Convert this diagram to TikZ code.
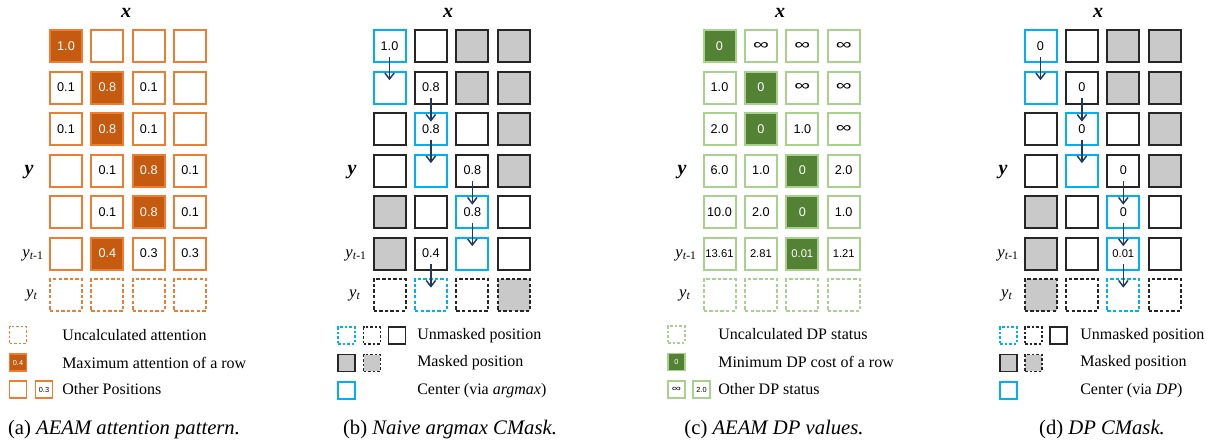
\documentclass[tikz,border=0pt]{standalone}
\usepackage{fontspec}
\usepackage{graphicx}
\setmainfont{Liberation Serif}
\newfontfamily\cellfont{Liberation Sans}
\usetikzlibrary{arrows.meta}
\definecolor{orL}{HTML}{ED7D31}
\definecolor{orD}{HTML}{C55A11}
\definecolor{grL}{HTML}{A9D18E}
\definecolor{grD}{HTML}{548235}
\definecolor{blC}{HTML}{00B0F0}
\definecolor{grayF}{HTML}{C9C9C9}
\definecolor{blk}{HTML}{262626}
\definecolor{navy}{HTML}{1F3864}
\newcommand{\infsym}{\scalebox{1.75}[1.15]{∞}}
\newcommand{\infsmall}{\scalebox{1.6}[1.1]{\fontsize{6}{6}\selectfont ∞}}
\begin{document}
\begin{tikzpicture}[x=0.75pt,y=-0.75pt,
 cell/.style={draw, minimum size=24pt, inner sep=0pt, line width=1.5pt, font=\cellfont\fontsize{9.5}{10}\selectfont},
 dsh/.style={dash pattern=on 2.6pt off 1.6pt},
 aN/.style={cell, draw=orL},
 aF/.style={cell, draw=orL, fill=orD, text=white},
 aD/.style={cell, draw=orL, dsh},
 cN/.style={cell, draw=grL},
 cF/.style={cell, draw=grL, fill=grD, text=white},
 cD/.style={cell, draw=grL, dsh},
 kN/.style={cell, draw=blk},
 kG/.style={cell, draw=blk, fill=grayF},
 kB/.style={cell, draw=blC},
 kND/.style={kN, dsh}, kGD/.style={kG, dsh}, kBD/.style={kB, dsh},
 lgs/.style={minimum size=12.5pt, line width=1.2pt, font=\cellfont\fontsize{5.5}{6}\selectfont, dash pattern=on 2pt off 1.4pt},
 lgsolid/.style={solid},
 arr/.style={draw=navy, line width=1.1pt, -{Straight Barb[length=4.5pt,width=7pt]}},
 lgt/.style={anchor=west, inner sep=0pt, font=\fontsize{12}{14}\selectfont},
 capt/.style={inner sep=0pt, font=\fontsize{15.5}{17}\selectfont},
 axl/.style={inner sep=0pt, font=\fontsize{15}{16}\selectfont\bfseries\itshape},
 rowl/.style={inner sep=0pt, font=\fontsize{12.5}{14}\selectfont}
]
\useasboundingbox (0,0) rectangle (1209,439);

% ---------------- panel (a)
\foreach \r/\c/\s/\t in {
 1/1/aF/1.0, 1/2/aN/{}, 1/3/aN/{}, 1/4/aN/{},
 2/1/aN/0.1, 2/2/aF/0.8, 2/3/aN/0.1, 2/4/aN/{},
 3/1/aN/0.1, 3/2/aF/0.8, 3/3/aN/0.1, 3/4/aN/{},
 4/1/aN/{}, 4/2/aN/0.1, 4/3/aF/0.8, 4/4/aN/0.1,
 5/1/aN/{}, 5/2/aN/0.1, 5/3/aF/0.8, 5/4/aN/0.1,
 6/1/aN/{}, 6/2/aF/0.4, 6/3/aN/0.3, 6/4/aN/0.3,
 7/1/aD/{}, 7/2/aD/{}, 7/3/aD/{}, 7/4/aD/{}}
 \node[\s] (a-\r-\c) at ({66+41.4*(\c-1)},{46+41.5*(\r-1)}) {\t};
\node[axl] (ax) at (126,13) {x};
\node[axl] (ay) at (29,172) {y};
\node[rowl] (ayt1) at (33,255) {\textit{y}\textsubscript{\textit{t}-1}};
\node[rowl] (ayt) at (32,295) {\textit{y}\textsubscript{\textit{t}}};
\node[aD, lgs] (al1) at (18,335) {};
\node[aF, lgs, lgsolid] (al2) at (18,362.5) {0.4};
\node[aN, lgs, lgsolid] (al3) at (18,389.5) {};
\node[aN, lgs, lgsolid] (al4) at (44,389.5) {0.3};
\node[lgt] (alt1) at (62,335) {Uncalculated attention};
\node[lgt] (alt2) at (62,362.5) {Maximum attention of a row};
\node[lgt] (alt3) at (62,389.5) {Other Positions};
\node[capt] (capa) at (124,430) {(a) \textit{AEAM attention pattern.}};

% ---------------- panel (b)
\foreach \r/\c/\s/\t in {
 1/1/kB/1.0, 1/2/kN/{}, 1/3/kG/{}, 1/4/kG/{},
 2/1/kB/{}, 2/2/kN/0.8, 2/3/kG/{}, 2/4/kG/{},
 3/1/kN/{}, 3/2/kB/0.8, 3/3/kN/{}, 3/4/kG/{},
 4/1/kN/{}, 4/2/kB/{}, 4/3/kN/0.8, 4/4/kG/{},
 5/1/kG/{}, 5/2/kN/{}, 5/3/kB/0.8, 5/4/kN/{},
 6/1/kG/{}, 6/2/kN/0.4, 6/3/kB/{}, 6/4/kN/{},
 7/1/kND/{}, 7/2/kBD/{}, 7/3/kND/{}, 7/4/kGD/{}}
 \node[\s] (b-\r-\c) at ({389.5+41.4*(\c-1)},{46+41.5*(\r-1)}) {\t};
\foreach \ra/\ca/\rb in {1/1/2, 2/2/3, 3/2/4, 4/3/5, 5/3/6, 6/2/7}
 \draw[arr] ([yshift=-8pt]b-\ra-\ca.center) -- ([yshift=5.5pt]b-\rb-\ca.center);
\node[axl] (bx) at (448,13) {x};
\node[axl] (by) at (352,172) {y};
\node[rowl] (byt1) at (356,255) {\textit{y}\textsubscript{\textit{t}-1}};
\node[rowl] (byt) at (355,295) {\textit{y}\textsubscript{\textit{t}}};
\node[kBD, lgs] (bl1) at (346.5,335.5) {};
\node[kND, lgs] (bl2) at (372,335.5) {};
\node[kN, lgs, lgsolid] (bl3) at (397,335.5) {};
\node[kG, lgs, lgsolid] (bl4) at (346.5,363) {};
\node[kGD, lgs] (bl5) at (372,363) {};
\node[kB, lgs, lgsolid] (bl6) at (346.5,390.5) {};
\node[lgt] (blt1) at (417,335.5) {Unmasked position};
\node[lgt] (blt2) at (417,363) {Masked position};
\node[lgt] (blt3) at (417,390.5) {Center (via \textit{argmax})};
\node[capt] (capb) at (450,430) {(b) \textit{Naive argmax CMask.}};

% ---------------- panel (c)
\foreach \r/\c/\s/\t in {
 1/1/cF/0, 1/2/cN/\infsym, 1/3/cN/\infsym, 1/4/cN/\infsym,
 2/1/cN/1.0, 2/2/cF/0, 2/3/cN/\infsym, 2/4/cN/\infsym,
 3/1/cN/2.0, 3/2/cF/0, 3/3/cN/1.0, 3/4/cN/\infsym,
 4/1/cN/6.0, 4/2/cN/1.0, 4/3/cF/0, 4/4/cN/2.0,
 5/1/cN/10.0, 5/2/cN/2.0, 5/3/cF/0, 5/4/cN/1.0,
 6/1/cN/{\fontsize{8.4}{9}\selectfont 13.61}, 6/2/cN/{\fontsize{8.4}{9}\selectfont 2.81}, 6/3/cF/{\fontsize{8.4}{9}\selectfont 0.01}, 6/4/cN/{\fontsize{8.4}{9}\selectfont 1.21},
 7/1/cD/{}, 7/2/cD/{}, 7/3/cD/{}, 7/4/cD/{}}
 \node[\s] (c-\r-\c) at ({719.5+41.4*(\c-1)},{46+41.5*(\r-1)}) {\t};
\node[axl] (cx) at (780,13) {x};
\node[axl] (cy) at (682,172) {y};
\node[rowl] (cyt1) at (686,255) {\textit{y}\textsubscript{\textit{t}-1}};
\node[rowl] (cyt) at (685,295) {\textit{y}\textsubscript{\textit{t}}};
\node[cD, lgs] (cl1) at (676.5,334.5) {};
\node[cF, lgs, lgsolid] (cl2) at (676.5,362) {0};
\node[cN, lgs, lgsolid] (cl3) at (676.5,389.5) {\infsmall};
\node[cN, lgs, lgsolid] (cl4) at (701.5,389.5) {2.0};
\node[lgt] (clt1) at (718,334.5) {Uncalculated DP status};
\node[lgt] (clt2) at (718,362) {Minimum DP cost of a row};
\node[lgt] (clt3) at (718,389.5) {Other DP status};
\node[capt] (capc) at (774,430) {(c) \textit{AEAM DP values.}};

% ---------------- panel (d)
\foreach \r/\c/\s/\t in {
 1/1/kB/0, 1/2/kN/{}, 1/3/kG/{}, 1/4/kG/{},
 2/1/kB/{}, 2/2/kN/0, 2/3/kG/{}, 2/4/kG/{},
 3/1/kN/{}, 3/2/kB/0, 3/3/kN/{}, 3/4/kG/{},
 4/1/kN/{}, 4/2/kB/{}, 4/3/kN/0, 4/4/kG/{},
 5/1/kG/{}, 5/2/kN/{}, 5/3/kB/0, 5/4/kN/{},
 6/1/kG/{}, 6/2/kN/{}, 6/3/kB/{\fontsize{8.4}{9}\selectfont 0.01}, 6/4/kN/{},
 7/1/kGD/{}, 7/2/kND/{}, 7/3/kBD/{}, 7/4/kND/{}}
 \node[\s] (d-\r-\c) at ({1040.5+41.4*(\c-1)},{46+41.5*(\r-1)}) {\t};
\foreach \ra/\ca/\rb in {1/1/2, 2/2/3, 3/2/4, 4/3/5, 5/3/6, 6/3/7}
 \draw[arr] ([yshift=-8pt]d-\ra-\ca.center) -- ([yshift=5.5pt]d-\rb-\ca.center);
\node[axl] (dx) at (1098,13) {x};
\node[axl] (dy) at (1003,172) {y};
\node[rowl] (dyt1) at (1008,255) {\textit{y}\textsubscript{\textit{t}-1}};
\node[rowl] (dyt) at (1007,295) {\textit{y}\textsubscript{\textit{t}}};
\node[kBD, lgs] (dl1) at (1008.5,335.5) {};
\node[kND, lgs] (dl2) at (1033.5,335.5) {};
\node[kN, lgs, lgsolid] (dl3) at (1058.5,335.5) {};
\node[kG, lgs, lgsolid] (dl4) at (1008.5,363) {};
\node[kGD, lgs] (dl5) at (1033.5,363) {};
\node[kB, lgs, lgsolid] (dl6) at (1008.5,390.5) {};
\node[lgt] (dlt1) at (1080,335.5) {Unmasked position};
\node[lgt] (dlt2) at (1080,363) {Masked position};
\node[lgt] (dlt3) at (1080,390.5) {Center (via \textit{DP})};
\node[capt] (capd) at (1102,430) {(d) \textit{DP CMask.}};
\end{tikzpicture}
\end{document}
